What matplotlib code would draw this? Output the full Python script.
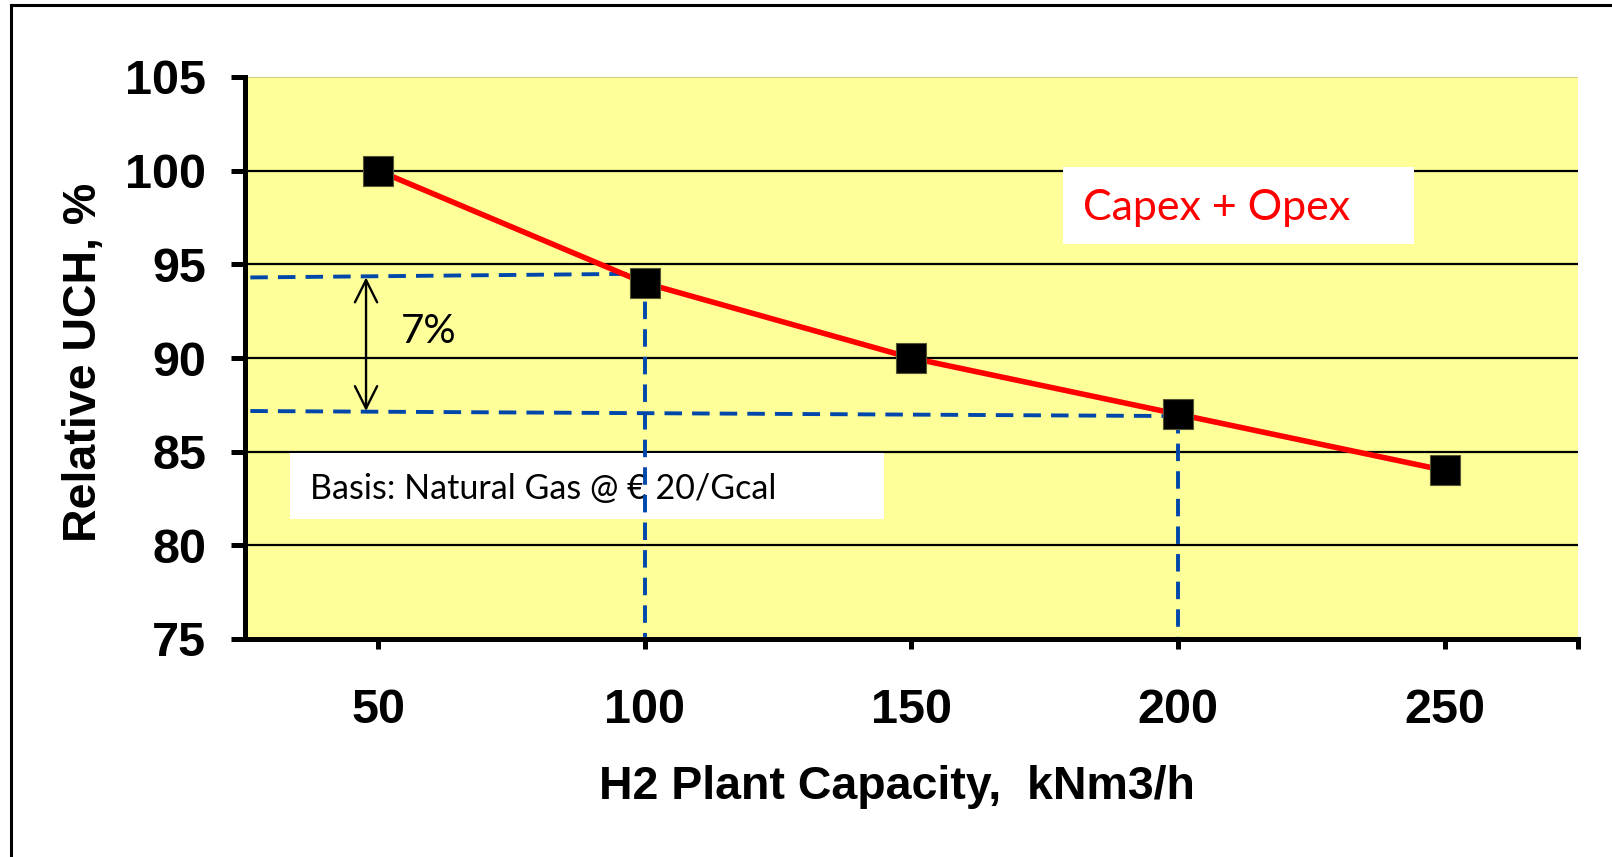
import matplotlib
matplotlib.use("Agg")
import matplotlib.pyplot as plt
from matplotlib.patches import Rectangle

# ---- data ----
capacity = [50, 100, 150, 200, 250]
uch = [100, 94, 90, 87, 84]
xtick_vals = [50, 100, 150, 200, 250, 275]
xtick_labels = ["50", "100", "150", "200", "250", ""]
ytick_vals = [75, 80, 85, 90, 95, 100, 105]
ref_upper = [94.3, 94.5]   # dashed line left/right level (x=100 reference)
ref_lower = [87.17, 86.9]  # dashed line left/right level (x=200 reference)
ref_x = [26, 100, 200]

W, H = 1612, 857
fig = plt.figure(figsize=(W / 100, H / 100), dpi=100)
fig.patch.set_facecolor("white")

# outer frame (only left and top visible)
fig.add_artist(Rectangle((11 / W, -0.2), 1.5, (1 - 5 / H) + 0.2, transform=fig.transFigure,
                         fill=False, edgecolor="black", lw=2.2))

ax = fig.add_axes([245 / W, 1 - 639 / H, (1578 - 245) / W, (639 - 77) / H])
ax.set_facecolor("#FFFF99")
ax.set_xlim(25, 275)
ax.set_ylim(75, 105)

for s in ["top", "right"]:
    ax.spines[s].set_visible(False)
for s in ["left", "bottom"]:
    ax.spines[s].set_linewidth(3.6)
    ax.spines[s].set_zorder(6)

# gridlines
for v in ytick_vals[1:-1]:
    ax.axhline(v, color="black", lw=1.6, zorder=1)
ax.axhline(105, color="#c8c070", lw=1.2, zorder=1)

tick_font = dict(family=["Liberation Sans", "DejaVu Sans"], weight="bold", size=35)
ax.set_yticks(ytick_vals)
ax.set_yticklabels([str(v) for v in ytick_vals], fontdict=tick_font)
ax.set_xticks(xtick_vals)
ax.set_xticklabels(xtick_labels, fontdict=tick_font)
ax.tick_params(axis="y", length=10, width=3.6, direction="out", pad=18)
ax.tick_params(axis="x", length=7, width=3.6, direction="out", pad=28)

label_font = dict(family=["Liberation Sans", "DejaVu Sans"], weight="bold", size=33.5)
ax.set_xlabel("H2 Plant Capacity,  kNm3/h", fontdict=label_font)
ax.set_ylabel("Relative UCH, %", fontdict=label_font)
ax.xaxis.set_label_coords(0.489, -0.224)
ax.yaxis.set_label_coords(-0.104, 0.493)

# text boxes
ax.add_patch(Rectangle((0.0338, 0.2135), 0.479 - 0.0338, 0.331 - 0.2135, transform=ax.transAxes,
                       facecolor="white", edgecolor="none", zorder=2))
ax.add_patch(Rectangle((0.614, 0.703), 0.877 - 0.614, 0.840 - 0.703, transform=ax.transAxes,
                       facecolor="white", edgecolor="none", zorder=2))
txt_fam = ["Lato", "DejaVu Sans"]
ax.text(0.0488, 0.267, "Basis: Natural Gas @ € 20/Gcal", transform=ax.transAxes,
        family=txt_fam, size=24.5, color="black", va="center", ha="left", zorder=3)
ax.text(0.6287, 0.767, "Capex + Opex", transform=ax.transAxes,
        family=txt_fam, size=31, color="#FF0000", va="center", ha="left", zorder=3)

# dashed reference lines
dash_kw = dict(color="#0047AB", lw=2.8, dashes=(4.5, 2.6), zorder=4)
ax.plot([ref_x[0], ref_x[1]], ref_upper, **dash_kw)
ax.plot([ref_x[0], ref_x[2]], ref_lower, **dash_kw)
ax.plot([ref_x[1], ref_x[1]], [ref_upper[1], 75], **dash_kw)
ax.plot([ref_x[2], ref_x[2]], [ref_lower[1], 75], **dash_kw)

# series
ax.plot(capacity, uch, color="#FF0000", lw=4, zorder=5)
ax.plot(capacity, uch, ls="none", marker="s", ms=21, mfc="black", mec="#555533", mew=0.8, zorder=7)

# 7% arrow
ax.annotate("", xy=(47.7, ref_upper[0]), xytext=(47.7, ref_lower[0]),
            arrowprops=dict(arrowstyle="<->", color="black", lw=1.7, mutation_scale=40,
                            shrinkA=0, shrinkB=0), zorder=5)
ax.text(54.2, 91.44, "7%", family=txt_fam, size=29, color="black", va="center", ha="left", zorder=5)

fig.savefig("out.png", dpi=100)
